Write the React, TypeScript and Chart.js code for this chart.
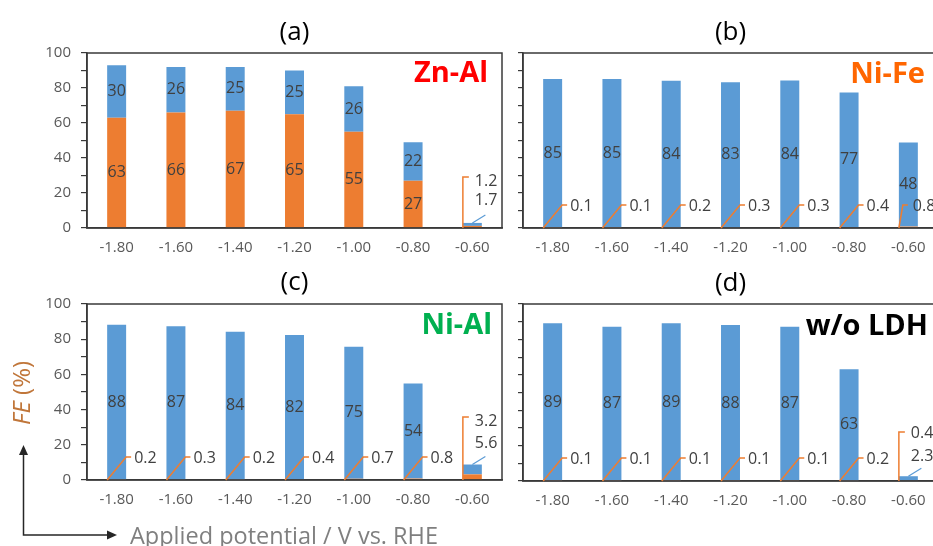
import React, { useEffect, useRef } from "react";
import { Chart, registerables } from "chart.js";

Chart.register(...registerables);

// ---------- data ----------
const potentials = ["-1.80", "-1.60", "-1.40", "-1.20", "-1.00", "-0.80", "-0.60"];
const yMin = 0;
const yMax = 100;
const yStep = 10;
const yLabelStep = 20;

const znAlOrange = [63, 66, 67, 65, 55, 27, 1.2];
const znAlBlue = [30, 26, 25, 25, 26, 22, 1.7];
const niFeOrange = [0.1, 0.1, 0.2, 0.3, 0.3, 0.4, 0.8];
const niFeBlue = [85, 85, 84, 83, 84, 77, 48];
const niAlOrange = [0.2, 0.3, 0.2, 0.4, 0.7, 0.8, 3.2];
const niAlBlue = [88, 87, 84, 82, 75, 54, 5.6];
const noLdhOrange = [0.1, 0.1, 0.1, 0.1, 0.1, 0.2, 0.4];
const noLdhBlue = [89, 87, 89, 88, 87, 63, 2.3];

const panelTitles = ["(a)", "(b)", "(c)", "(d)"];
const panelNames = ["Zn-Al", "Ni-Fe", "Ni-Al", "w/o LDH"];
const yAxisTitleItalic = "FE";
const yAxisTitleRest = " (%)";
const xAxisTitle = "Applied potential / V vs. RHE";

// ---------- styles ----------
const BLUE = "#5B9BD5";
const ORANGE = "#ED7D31";
const AXIS = "#3A3A3A";
const TICK_COLOR = "#595959";
const LABEL_COLOR = "#404040";
const FONT = '"Open Sans", "DejaVu Sans", sans-serif';

type Mode = "center" | "leader" | "steep" | "bracket" | "tip";

interface PanelDef {
  title: string;
  name: string;
  nameColor: string;
  orange: number[];
  blue: number[];
  orangeMode: Mode[];
  blueMode: Mode[];
  yLabels: boolean;
  tickLen: number;
  box: { left: number; top: number; width: number; height: number };
  area: { left: number; top: number; right: number; bottom: number };
  titleBaseline: number;
  nameRight: number;
  nameBaseline: number;
  special: { bracketTop: number; orangeText: number; blueText: number };
  extra?: boolean;
}

const six = (m: Mode): Mode[] => [m, m, m, m, m, m];

const panels: PanelDef[] = [
  {
    title: panelTitles[0],
    name: panelNames[0],
    nameColor: "#FF0000",
    orange: znAlOrange,
    blue: znAlBlue,
    orangeMode: [...six("center"), "bracket"],
    blueMode: [...six("center"), "tip"],
    yLabels: true,
    tickLen: 6,
    box: { left: 0, top: 0, width: 515, height: 255 },
    area: { left: 87, top: 53, right: 502, bottom: 228 },
    titleBaseline: 40,
    nameRight: 14,
    nameBaseline: 28.7,
    special: { bracketTop: 51, orangeText: 47, blueText: 28 },
  },
  {
    title: panelTitles[1],
    name: panelNames[1],
    nameColor: "#FF6600",
    orange: niFeOrange,
    blue: niFeBlue,
    orangeMode: [...six("leader"), "steep"],
    blueMode: [...six("center"), "center"],
    yLabels: false,
    tickLen: 5,
    box: { left: 510, top: 0, width: 440, height: 255 },
    area: { left: 13, top: 53, right: 428, bottom: 228 },
    titleBaseline: 40,
    nameRight: 13,
    nameBaseline: 30.3,
    special: { bracketTop: 0, orangeText: 0, blueText: 0 },
  },
  {
    title: panelTitles[2],
    name: panelNames[2],
    nameColor: "#00B050",
    orange: niAlOrange,
    blue: niAlBlue,
    orangeMode: [...six("leader"), "bracket"],
    blueMode: [...six("center"), "tip"],
    yLabels: true,
    tickLen: 6,
    box: { left: 0, top: 255, width: 515, height: 291 },
    area: { left: 87, top: 49, right: 502, bottom: 225 },
    titleBaseline: 34.5,
    nameRight: 10,
    nameBaseline: 30,
    special: { bracketTop: 63, orangeText: 59, blueText: 37 },
    extra: true,
  },
  {
    title: panelTitles[3],
    name: panelNames[3],
    nameColor: "#000000",
    orange: noLdhOrange,
    blue: noLdhBlue,
    orangeMode: [...six("leader"), "bracket"],
    blueMode: [...six("center"), "tip"],
    yLabels: false,
    tickLen: 5,
    box: { left: 510, top: 255, width: 440, height: 291 },
    area: { left: 13, top: 49, right: 428, bottom: 226 },
    titleBaseline: 35.5,
    nameRight: 10,
    nameBaseline: 31,
    special: { bracketTop: 49, orangeText: 48, blueText: 25 },
  },
];

function drawLabel(ctx: CanvasRenderingContext2D, text: string, x: number, y: number, align: CanvasTextAlign) {
  ctx.font = `16px ${FONT}`;
  ctx.fillStyle = LABEL_COLOR;
  ctx.textAlign = align;
  ctx.textBaseline = "middle";
  ctx.fillText(text, x, y);
}

function arrowHead(ctx: CanvasRenderingContext2D, x: number, y: number, dir: "up" | "right") {
  ctx.beginPath();
  if (dir === "up") {
    ctx.moveTo(x, y);
    ctx.lineTo(x - 4.5, y + 10);
    ctx.lineTo(x + 4.5, y + 10);
  } else {
    ctx.moveTo(x, y);
    ctx.lineTo(x - 10, y - 4.5);
    ctx.lineTo(x - 10, y + 4.5);
  }
  ctx.closePath();
  ctx.fill();
}

function makePlugin(p: PanelDef) {
  return {
    id: "panelDecor",
    afterDraw(chart: any) {
      const ctx: CanvasRenderingContext2D = chart.ctx;
      const a = chart.chartArea;
      ctx.save();
      ctx.setLineDash([]);
      // plot frame
      ctx.strokeStyle = AXIS;
      ctx.lineWidth = 1.5;
      ctx.strokeRect(a.left, a.top, a.right - a.left, a.bottom - a.top);

      const mo = chart.getDatasetMeta(0);
      const mb = chart.getDatasetMeta(1);
      const base = chart.scales.y.getPixelForValue(0);

      for (let i = 0; i < potentials.length; i++) {
        const eo = mo.data[i];
        const eb = mb.data[i];
        const cx = eo.x;
        const w = eo.width;
        const left = cx - w / 2;
        const right = cx + w / 2;
        const ov = p.orange[i];
        const bv = p.blue[i];

        // orange labels
        const om = p.orangeMode[i];
        ctx.strokeStyle = ORANGE;
        ctx.lineWidth = 1.5;
        if (om === "center") {
          drawLabel(ctx, String(ov), cx, (eo.y + eo.base) / 2, "center");
        } else if (om === "leader") {
          ctx.beginPath();
          ctx.moveTo(left, base);
          ctx.lineTo(right, base - 23);
          ctx.lineTo(right + 5, base - 23);
          ctx.stroke();
          drawLabel(ctx, String(ov), right + 8, base - 22, "left");
        } else if (om === "steep") {
          ctx.beginPath();
          ctx.moveTo(left, base);
          ctx.lineTo(left + 4, base - 23);
          ctx.lineTo(left + 9, base - 23);
          ctx.stroke();
          drawLabel(ctx, String(ov), left + 14, base - 22, "left");
        } else if (om === "bracket") {
          const bt = p.special.bracketTop;
          ctx.beginPath();
          ctx.moveTo(left, base);
          ctx.lineTo(left, base - bt);
          ctx.lineTo(left + 6, base - bt);
          ctx.stroke();
          drawLabel(ctx, String(ov), left + 12, base - p.special.orangeText, "left");
        }

        // blue labels
        const bm = p.blueMode[i];
        if (bm === "center") {
          drawLabel(ctx, String(bv), cx, (eb.y + eb.base) / 2, "center");
        } else if (bm === "tip") {
          ctx.strokeStyle = BLUE;
          ctx.lineWidth = 1.2;
          ctx.beginPath();
          ctx.moveTo(cx, eb.y);
          ctx.lineTo(cx + 13, eb.y - 8);
          ctx.stroke();
          drawLabel(ctx, String(bv), left + 12, base - p.special.blueText, "left");
        }
      }

      // panel title
      ctx.font = `26px ${FONT}`;
      ctx.fillStyle = "#000000";
      ctx.textAlign = "center";
      ctx.textBaseline = "alphabetic";
      ctx.fillText(p.title, (a.left + a.right) / 2, p.titleBaseline);

      // material name
      ctx.font = `bold 29px ${FONT}`;
      ctx.fillStyle = p.nameColor;
      ctx.textAlign = "right";
      ctx.fillText(p.name, a.right - p.nameRight, a.top + p.nameBaseline);

      if (p.extra) {
        // y axis title (rotated)
        ctx.save();
        ctx.translate(23.5, 138);
        ctx.rotate(-Math.PI / 2);
        ctx.fillStyle = "#C0763A";
        ctx.textBaseline = "middle";
        ctx.textAlign = "left";
        ctx.font = `italic 24px ${FONT}`;
        const w1 = ctx.measureText(yAxisTitleItalic).width;
        ctx.font = `24px ${FONT}`;
        const w2 = ctx.measureText(yAxisTitleRest).width;
        const sx = -(w1 + w2) / 2;
        ctx.font = `italic 24px ${FONT}`;
        ctx.fillText(yAxisTitleItalic, sx, 0);
        ctx.font = `24px ${FONT}`;
        ctx.fillText(yAxisTitleRest, sx + w1, 0);
        ctx.restore();

        // x axis title
        ctx.font = `23.5px ${FONT}`;
        ctx.fillStyle = "#7F7F7F";
        ctx.textAlign = "left";
        ctx.textBaseline = "alphabetic";
        ctx.fillText(xAxisTitle, 130, 288.5);

        // L-shaped arrow
        ctx.strokeStyle = "#262626";
        ctx.fillStyle = "#262626";
        ctx.lineWidth = 1.5;
        ctx.beginPath();
        ctx.moveTo(23.5, 198);
        ctx.lineTo(23.5, 280);
        ctx.lineTo(108, 280);
        ctx.stroke();
        arrowHead(ctx, 23.5, 190, "up");
        arrowHead(ctx, 117, 280, "right");
      }
      ctx.restore();
    },
  };
}

function PanelChart({ p }: { p: PanelDef }) {
  const ref = useRef<HTMLCanvasElement>(null);
  useEffect(() => {
    if (!ref.current) return;
    const { box, area } = p;
    const chart = new Chart(ref.current, {
      type: "bar",
      data: {
        labels: potentials,
        datasets: [
          {
            label: "orange",
            data: p.orange,
            backgroundColor: ORANGE,
            borderWidth: 0,
            barPercentage: 0.32,
            categoryPercentage: 1,
          },
          {
            label: "blue",
            data: p.blue,
            backgroundColor: BLUE,
            borderWidth: 0,
            barPercentage: 0.32,
            categoryPercentage: 1,
          },
        ],
      },
      options: {
        responsive: false,
        maintainAspectRatio: false,
        animation: false,
        devicePixelRatio: 1,
        layout: {
          padding: { left: 0, top: area.top, right: box.width - area.right, bottom: 0 },
        },
        plugins: {
          legend: { display: false },
          tooltip: { enabled: false },
          title: { display: false },
        },
        scales: {
          x: {
            stacked: true,
            grid: { display: false, drawTicks: false },
            border: { display: true, color: AXIS, width: 1.5 },
            ticks: {
              color: TICK_COLOR,
              font: { family: FONT, size: 15 },
              padding: 11,
              maxRotation: 0,
              autoSkip: false,
            },
            afterFit: (s: any) => {
              s.height = box.height - area.bottom;
            },
          },
          y: {
            stacked: true,
            min: yMin,
            max: yMax,
            grid: {
              drawOnChartArea: false,
              drawTicks: true,
              tickLength: p.tickLen,
              color: AXIS,
              lineWidth: 1.2,
            },
            border: { display: true, color: AXIS, width: 1.5 },
            ticks: {
              stepSize: yStep,
              color: TICK_COLOR,
              font: { family: FONT, size: 15 },
              padding: 10,
              autoSkip: false,
              callback: (v: any) => (p.yLabels && Number(v) % yLabelStep === 0 ? String(v) : ""),
            },
            afterFit: (s: any) => {
              s.width = area.left;
            },
          },
        },
      },
      plugins: [makePlugin(p)],
    } as any);
    return () => chart.destroy();
  }, [p]);
  return (
    <canvas
      ref={ref}
      width={p.box.width}
      height={p.box.height}
      style={{
        position: "absolute",
        left: p.box.left,
        top: p.box.top,
        width: p.box.width,
        height: p.box.height,
      }}
    />
  );
}

export default function App() {
  return (
    <div
      style={{
        position: "absolute",
        left: 0,
        top: 0,
        width: 933,
        height: 546,
        overflow: "hidden",
        background: "#ffffff",
      }}
    >
      {panels.map((p, i) => (
        <PanelChart key={i} p={p} />
      ))}
    </div>
  );
}
